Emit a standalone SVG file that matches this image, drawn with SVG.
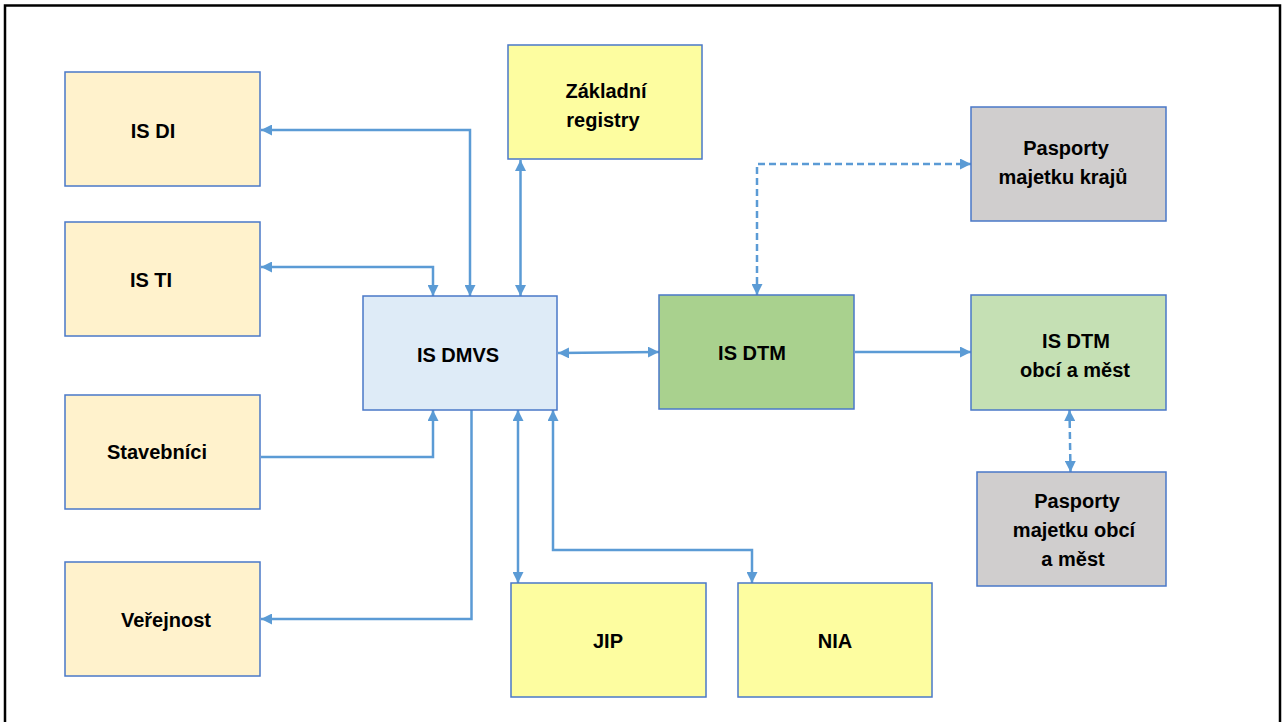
<svg xmlns="http://www.w3.org/2000/svg" width="1284" height="722" viewBox="0 0 1284 722">
<style>
.box{stroke:#4A78C8;stroke-width:1.5}
.t{font-family:"Liberation Sans",Arial,sans-serif;font-weight:bold;font-size:20px;fill:#000;text-anchor:middle}
.c{fill:none;stroke:#5B9BD5;stroke-width:2.5}
.d{stroke-dasharray:7 4}
.sand{fill:#FFF2CC}
.yel{fill:#FDFDA0}
.grey{fill:#D0CECE}
</style>
<defs>
<marker id="a" viewBox="0 0 10 10" refX="10" refY="5" markerWidth="11" markerHeight="11" markerUnits="userSpaceOnUse" orient="auto-start-reverse">
<path d="M0,0 L10,5 L0,10 z" fill="#5B9BD5"/>
</marker>
</defs>
<rect x="0" y="0" width="1284" height="722" fill="#fff"/>
<rect x="5" y="5.5" width="1275" height="740" fill="none" stroke="#000" stroke-width="2.5"/>

<g id="connectors">
<path class="c" d="M470,296 V130 H261" marker-start="url(#a)" marker-end="url(#a)"/>
<path class="c" d="M433,296 V267 H261" marker-start="url(#a)" marker-end="url(#a)"/>
<path class="c" d="M520.5,296 V160" marker-start="url(#a)" marker-end="url(#a)"/>
<path class="c" d="M558,353 L659,352" marker-start="url(#a)" marker-end="url(#a)"/>
<path class="c" d="M855,352 H971" marker-end="url(#a)"/>
<path class="c d" d="M757,295 V164 H971" marker-start="url(#a)" marker-end="url(#a)"/>
<path class="c d" d="M1069.5,410 L1070.5,472" marker-start="url(#a)" marker-end="url(#a)"/>
<path class="c" d="M261,457 H433 V410" marker-end="url(#a)"/>
<path class="c" d="M471.5,410 V619 H261" marker-end="url(#a)"/>
<path class="c" d="M518,410 V583" marker-start="url(#a)" marker-end="url(#a)"/>
<path class="c" d="M553,410 V550 H752 V583" marker-start="url(#a)" marker-end="url(#a)"/>
</g>

<g id="is-di"><rect class="box sand" x="65" y="72" width="195" height="114"/><text class="t" x="153" y="138">IS DI</text></g>
<g id="is-ti"><rect class="box sand" x="65" y="222" width="195" height="114"/><text class="t" x="151" y="287">IS TI</text></g>
<g id="stavebnici"><rect class="box sand" x="65" y="395" width="195" height="114"/><text class="t" x="157" y="459">Stavebníci</text></g>
<g id="verejnost"><rect class="box sand" x="65" y="562" width="195" height="114"/><text class="t" x="166" y="627">Veřejnost</text></g>
<g id="is-dmvs"><rect class="box" fill="#DEEBF7" x="363" y="296" width="194" height="114"/><text class="t" x="458" y="362">IS DMVS</text></g>
<g id="zakladni-registry"><rect class="box yel" x="508" y="45" width="194" height="114"/><text class="t" x="606" y="98">Základní</text><text class="t" x="603" y="127">registry</text></g>
<g id="is-dtm"><rect class="box" fill="#A9D18E" x="659" y="295" width="195" height="114"/><text class="t" x="752" y="360">IS DTM</text></g>
<g id="pasporty-kraju"><rect class="box grey" x="971" y="107" width="195" height="114"/><text class="t" x="1066" y="155">Pasporty</text><text class="t" x="1063" y="184">majetku krajů</text></g>
<g id="is-dtm-obci"><rect class="box" fill="#C5E0B4" x="971" y="295" width="195" height="115"/><text class="t" x="1076" y="348">IS DTM</text><text class="t" x="1075" y="377">obcí a měst</text></g>
<g id="pasporty-obci"><rect class="box grey" x="977" y="472" width="189" height="114"/><text class="t" x="1077" y="508">Pasporty</text><text class="t" x="1074" y="537">majetku obcí</text><text class="t" x="1073" y="566">a měst</text></g>
<g id="jip"><rect class="box yel" x="511" y="583" width="195" height="114"/><text class="t" x="608" y="648">JIP</text></g>
<g id="nia"><rect class="box yel" x="738" y="583" width="194" height="114"/><text class="t" x="835" y="648">NIA</text></g>
</svg>
